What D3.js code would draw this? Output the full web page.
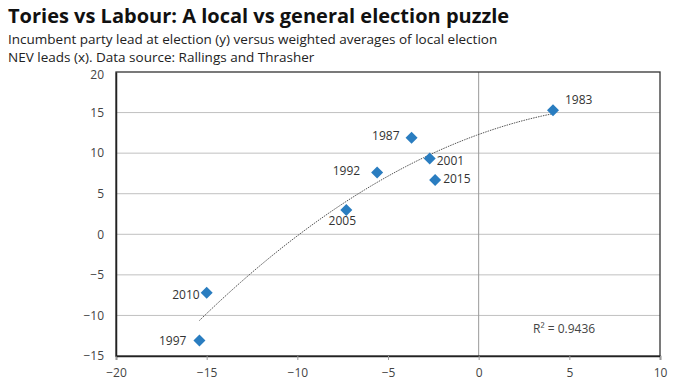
<!DOCTYPE html>
<html>
<head>
<meta charset="utf-8">
<script src="https://cdn.jsdelivr.net/npm/d3@7"></script>
<style>
  body { margin: 0; background: #fff; }
  text { font-family: "Open Sans", sans-serif; }
</style>
</head>
<body>
<svg></svg>
<script>
var width = 696;
var height = 385;

// election years, local NEV lead (x) and general election lead (y)
var years = ['1983', '1987', '1992', '1997', '2001', '2005', '2010', '2015'];
var nevLead = [4.1, -3.7, -5.6, -15.4, -2.7, -7.3, -15.0, -2.4];
var gELead = [15.3, 11.9, 7.6, -13.1, 9.35, 3.0, -7.2, 6.7];

var xTicks = [-20, -15, -10, -5, 0, 5, 10];
var yTicks = [-15, -10, -5, 0, 5, 10, 15, 20];

var data = years.map((y, i) => ({year: y, x: nevLead[i], y: gELead[i]}));

// label offsets (dx, dy, anchor)
var labelPos = {
  '1983': [12, -6, 'start'],
  '1987': [-12, 2, 'end'],
  '1992': [-17, 2, 'end'],
  '1997': [-13, 4, 'end'],
  '2001': [7, 7, 'start'],
  '2005': [-4, 15, 'middle'],
  '2010': [-7, 6, 'end'],
  '2015': [8, 3, 'start']
};

var margin = {left: 116, right: 36, top: 72, bottom: 29};

var svg = d3.select('svg')
  .attr('width', width)
  .attr('height', height);

var xScale = d3.scaleLinear()
  .domain([-20, 10])
  .range([margin.left, width - margin.right]);

var yScale = d3.scaleLinear()
  .domain([-15, 20])
  .range([height - margin.bottom, margin.top]);

// title
svg.append('text')
  .text('Tories vs Labour: A local vs general election puzzle')
  .attr('x', 8)
  .attr('y', 23)
  .style('font-size', '20px')
  .style('font-weight', 'bold')
  .attr('fill', '#111');

svg.append('text')
  .text('Incumbent party lead at election (y) versus weighted averages of local election')
  .attr('x', 8)
  .attr('y', 44)
  .style('font-size', '13.5px')
  .attr('fill', '#222');

svg.append('text')
  .text('NEV leads (x). Data source: Rallings and Thrasher')
  .attr('x', 8)
  .attr('y', 62)
  .style('font-size', '13.5px')
  .attr('fill', '#222');

// gridlines
svg.append('g')
  .selectAll('line')
  .data(yTicks.filter(t => t > -15 && t < 20))
  .enter()
  .append('line')
    .attr('x1', xScale(-20))
    .attr('x2', xScale(10))
    .attr('y1', d => yScale(d))
    .attr('y2', d => yScale(d))
    .attr('stroke', '#c0c0c0')
    .attr('stroke-width', 1);

svg.append('line')
  .attr('x1', xScale(0))
  .attr('x2', xScale(0))
  .attr('y1', yScale(20))
  .attr('y2', yScale(-15))
  .attr('stroke', '#9a9a9a')
  .attr('stroke-width', 1);

// plot border
svg.append('rect')
  .attr('x', xScale(-20))
  .attr('y', yScale(20))
  .attr('width', xScale(10) - xScale(-20))
  .attr('height', yScale(-15) - yScale(20))
  .attr('fill', 'none')
  .attr('stroke', '#333')
  .attr('stroke-width', 1.3);

// axes
var xAxis = svg.append('g')
  .attr('transform', 'translate(0,' + yScale(-15) + ')')
  .call(d3.axisBottom(xScale).tickValues(xTicks).tickSize(4).tickPadding(8));

var yAxis = svg.append('g')
  .attr('transform', 'translate(' + xScale(-20) + ',0)')
  .call(d3.axisLeft(yScale).tickValues(yTicks).tickSize(0).tickPadding(12));

[xAxis, yAxis].forEach(function(ax) {
  ax.select('.domain').attr('stroke', '#222').attr('stroke-width', 1.5);
  ax.selectAll('.tick line').attr('stroke', '#999');
  ax.selectAll('.tick text')
    .attr('fill', '#444')
    .style('font-size', '12px')
    .style('font-family', '"Open Sans", sans-serif');
});

// keep the top label clear of the subtitle
yAxis.selectAll('.tick text')
  .filter(d => d === 20)
  .attr('dy', '0.55em');

// polynomial (order 2) least-squares trendline
function quadFit(pts) {
  var s = [0, 0, 0, 0, 0], t = [0, 0, 0];
  pts.forEach(function(p) {
    for (var k = 0; k < 5; k++) s[k] += Math.pow(p.x, k);
    for (var j = 0; j < 3; j++) t[j] += p.y * Math.pow(p.x, j);
  });
  var A = [[s[0], s[1], s[2], t[0]], [s[1], s[2], s[3], t[1]], [s[2], s[3], s[4], t[2]]];
  for (var i = 0; i < 3; i++) {
    for (var r = i + 1; r < 3; r++) {
      var f = A[r][i] / A[i][i];
      for (var c = i; c < 4; c++) A[r][c] -= f * A[i][c];
    }
  }
  var coef = [0, 0, 0];
  for (var i = 2; i >= 0; i--) {
    var v = A[i][3];
    for (var c = i + 1; c < 3; c++) v -= A[i][c] * coef[c];
    coef[i] = v / A[i][i];
  }
  return coef;
}

var coef = quadFit(data);
var xExt = d3.extent(data, d => d.x);
var trendX = d3.range(xExt[0], xExt[1] + 0.001, (xExt[1] - xExt[0]) / 60);

svg.append('path')
  .datum(trendX)
  .attr('d', d3.line()
    .x(d => xScale(d))
    .y(d => yScale(coef[0] + coef[1] * d + coef[2] * d * d)))
  .attr('fill', 'none')
  .attr('stroke', '#555')
  .attr('stroke-width', 1)
  .attr('stroke-dasharray', '1.5,1');

// points
svg.append('g')
  .selectAll('path')
  .data(data)
  .enter()
  .append('path')
    .attr('d', d3.symbol().type(d3.symbolSquare).size(72))
    .attr('transform', d => 'translate(' + xScale(d.x) + ',' + yScale(d.y) + ') rotate(45)')
    .attr('fill', '#2a7dc0');

svg.append('g')
  .selectAll('text')
  .data(data)
  .enter()
  .append('text')
    .text(d => d.year)
    .attr('x', d => xScale(d.x) + labelPos[d.year][0])
    .attr('y', d => yScale(d.y) + labelPos[d.year][1])
    .attr('text-anchor', d => labelPos[d.year][2])
    .style('font-size', '12px')
    .attr('fill', '#333');

// R squared
svg.append('text')
  .text('R² = 0.9436')
  .attr('x', 533)
  .attr('y', 333)
  .style('font-size', '12px')
  .attr('fill', '#444');
</script>
</body>
</html>
